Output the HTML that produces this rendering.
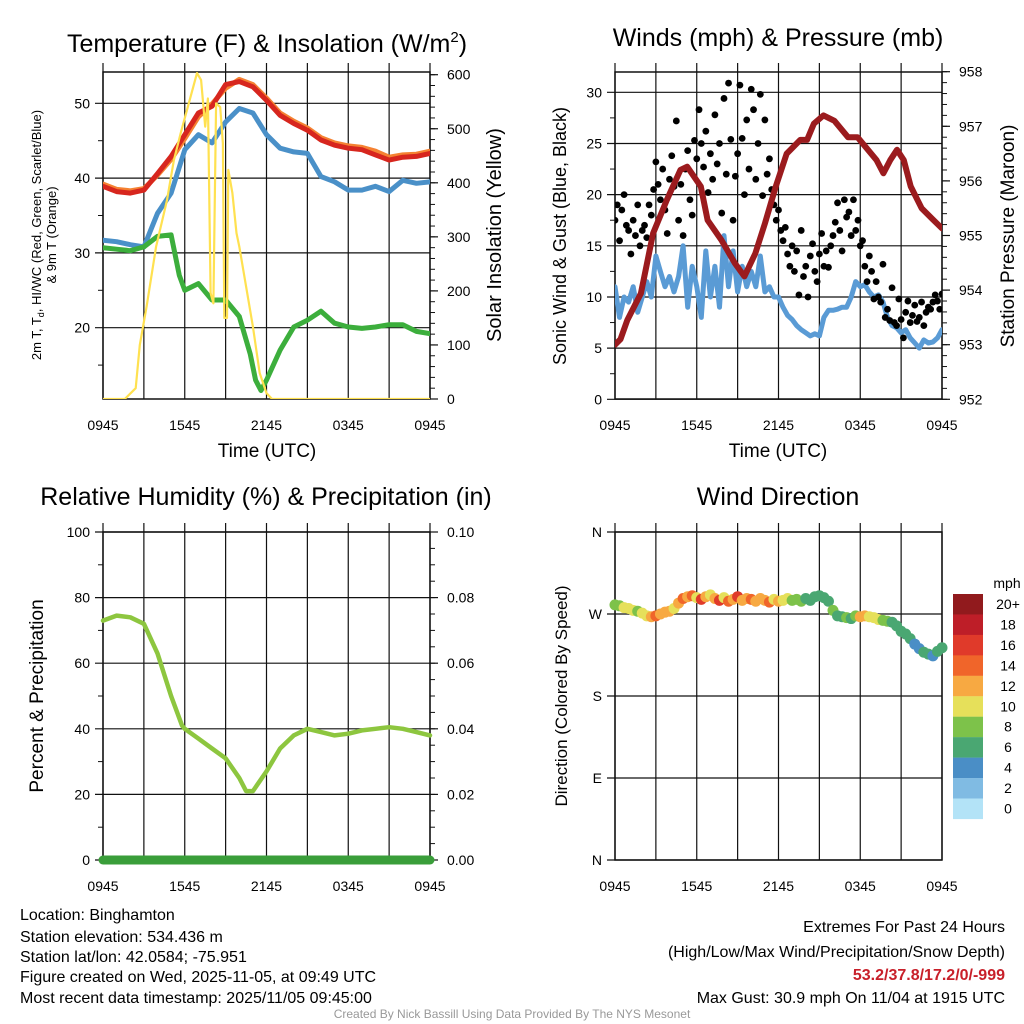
<!DOCTYPE html>
<html><head><meta charset="utf-8"><style>
html,body{margin:0;padding:0;background:#fff}
svg{display:block;font-family:"Liberation Sans",Arial,sans-serif}
</style></head><body>
<svg id="c" width="1024" height="1024" viewBox="0 0 1024 1024" xmlns="http://www.w3.org/2000/svg">
<rect width="1024" height="1024" fill="#fff"/>
<g id="g1"></g>
<g id="g2"></g>
<g id="g3"></g>
<g id="g4"></g>

<text x="267" y="52" font-size="25" text-anchor="middle">Temperature (F) &amp; Insolation (W/m<tspan font-size="15" dy="-10">2</tspan><tspan dy="10">)</tspan></text>
<text x="778" y="46" font-size="25" text-anchor="middle">Winds (mph) &amp; Pressure (mb)</text>
<text x="266" y="505" font-size="25" text-anchor="middle">Relative Humidity (%) &amp; Precipitation (in)</text>
<text x="778" y="505" font-size="25" text-anchor="middle">Wind Direction</text>

<text transform="translate(41,235) rotate(-90)" font-size="13" text-anchor="middle">2m T, T<tspan font-size="9" dy="3">d</tspan><tspan dy="-3">, HI/WC (Red, Green, Scarlet/Blue)</tspan></text>
<text transform="translate(56,235) rotate(-90)" font-size="13" text-anchor="middle">&amp; 9m T (Orange)</text>
<text transform="translate(501,235) rotate(-90)" font-size="20" text-anchor="middle">Solar Insolation (Yellow)</text>
<text x="267" y="457" font-size="19" text-anchor="middle">Time (UTC)</text>
<text x="778" y="457" font-size="19" text-anchor="middle">Time (UTC)</text>
<text transform="translate(566,236) rotate(-90)" font-size="18" text-anchor="middle">Sonic Wind &amp; Gust (Blue, Black)</text>
<text transform="translate(1014,236) rotate(-90)" font-size="19" text-anchor="middle">Station Pressure (Maroon)</text>
<text transform="translate(43,696) rotate(-90)" font-size="19" text-anchor="middle">Percent &amp; Precipitation</text>
<text transform="translate(567,696) rotate(-90)" font-size="17" text-anchor="middle">Direction (Colored By Speed)</text>

<g font-size="16">
<text x="20" y="920">Location: Binghamton</text>
<text x="20" y="942">Station elevation: 534.436 m</text>
<text x="20" y="962">Station lat/lon: 42.0584; -75.951</text>
<text x="20" y="982">Figure created on Wed, 2025-11-05, at 09:49 UTC</text>
<text x="20" y="1003">Most recent data timestamp: 2025/11/05 09:45:00</text>
</g>
<g font-size="16" text-anchor="end">
<text x="1005" y="932">Extremes For Past 24 Hours</text>
<text x="1005" y="957">(High/Low/Max Wind/Precipitation/Snow Depth)</text>
<text x="1005" y="980" fill="#c8202a" font-weight="bold">53.2/37.8/17.2/0/-999</text>
<text x="1005" y="1003">Max Gust: 30.9 mph On 11/04 at 1915 UTC</text>
</g>
<text x="512" y="1018" font-size="12" fill="#999" text-anchor="middle">Created By Nick Bassill Using Data Provided By The NYS Mesonet</text>
</svg>
<script>
// ---- data ----
const xTickLabels = ["0945","1545","2145","0345","0945"];
const tempTimes = [0,1,2,3,4,5,6,7,8,9,10,11,12,13,14,15,16,17,18,19,20,21,22,23,24];
const tempRed = [38.9,38.2,38.0,38.4,40.6,42.9,45.8,48.7,49.6,52.5,52.9,52.2,50.4,48.4,47.3,46.4,45.1,44.4,44.0,43.8,43.1,42.4,42.8,42.9,43.3];
const tempOrange = [39.2,38.5,38.3,38.6,40.4,42.5,45.3,48.2,49.9,52.0,53.2,52.5,50.7,48.7,47.6,46.7,45.4,44.7,44.3,44.1,43.6,42.8,43.1,43.2,43.6];
const tempBlue = [31.7,31.5,31.1,30.8,35.3,38.0,43.8,45.8,44.7,47.5,49.3,48.7,45.8,44.0,43.5,43.3,40.2,39.5,38.4,38.4,38.9,38.2,39.7,39.3,39.5];
const dewTimes = [0,1,2,3,4,5,5.6,6,7,8,9,10,10.8,11.2,11.6,12,13,14,15,16,17,18,19,20,21,22,23,24];
const dewGreen = [30.7,30.5,30.3,30.8,32.2,32.4,27.0,25.0,25.9,23.7,23.7,21.5,16.5,13.0,11.6,13.0,17.0,20.1,21.0,22.2,20.6,20.1,19.9,20.1,20.4,20.4,19.5,19.2];
const solarTimes = [0,1.6,2.4,2.7,3.2,3.9,4.7,5.2,5.7,6.3,6.9,7.2,7.5,7.7,7.9,8.1,8.3,8.6,8.8,8.9,9.1,9.2,9.5,9.8,10.0,10.5,11.0,11.5,12.0,12.4,24];
const solarVals = [0,0,20,100,171,282,368,442,492,547,603,590,504,556,196,177,547,540,473,150,150,424,381,307,282,208,134,48,11,0,0];
const windTimes = []; for(let i=0;i<=72;i++) windTimes.push(i/3);
const windSpeed = [11,8,10, 9.5,11,8.5, 10,11.5,10, 14,12.5,11, 12,10.5,12, 15,9,13, 11,8,14.5, 10,13,9, 16,11,14.5, 10.5,13,11, 12.5,11,14, 10.5,11,10, 10,9,8.2, 7.8,7.2,6.8, 6.5,6.2,6.4, 6.2,8,8.7, 8.7,8.8,9, 9,10,11.5, 11,11.2,10.5, 10,10.2,9.5, 8,7.2,7, 6.5,6.8,6, 5.5,5,5.8, 5.5,5.6,6, 6.8];
const gustTimes = []; for(let i=0;i<=144;i++) gustTimes.push(i/6);
const gustVals = [17.5,19,15.5,18.5,20,17, 16.5,14.2,17.5,16,19,15, 16.5,17,15.8,19,18,20.5, 23.2,21,19.5,22.5,18.5,16.2, 21.5,23.8,20.8,27.2,17.5,21, 16,22.5,24.3,19.5,18,25.3, 23.5,28.3,25,22.7,26.2,20.2, 24,21.5,27.8,23,25,18.2, 29.4,22,30.9,25.4,17.5,21.8, 24,30.7,25.5,20,27.3,22.5, 30.3,28.3,21.5,25,29.8,19.9, 27.3,22,23.5,20.5,19,17.5, 18.5,16.5,15.5,16.8,14.2,13, 15,12.5,14.5,10.2,16.5,12, 13,10,14,15.2,12.5,11.5, 14.2,16.2,13,14.5,12.9,15, 16,17.3,19.2,16.5,14.5,19.5, 17.8,18.3,16,19.5,16.5,17.5, 15,15.5,13,11.5,14,12.5, 9.8,11.5,10,9.5,13.2,8, 8.8,7.7,10.9,7.5,7.2,9.8, 7.8,6,8.5,9.6,7.5,8.2, 9.2,7.6,8,9.5,7.2,8.5, 9,8.8,9.5,10.2,9.6,8.8, 10.3];
const presTimes = [0,0.4,0.9,1.9,2.8,3.8,4.8,5.3,6.3,6.8,7.8,8.8,9.5,10.3,11.0,11.8,12.6,13.6,14.1,14.6,15.3,16.1,17.1,17.8,19.2,19.7,20.2,20.7,21.2,21.7,22.5,23.3,24];
const presVals = [953.0,953.1,953.45,953.94,955.04,955.65,956.2,956.26,955.9,955.28,954.92,954.49,954.25,954.67,955.22,955.9,956.5,956.75,956.75,957.05,957.2,957.1,956.8,956.8,956.38,956.14,956.38,956.57,956.38,955.9,955.5,955.3,955.13];
const rhTimes = [0,1,2,3,4,5,5.8,6,7,8,9,10,10.5,11,12,13,14,15,16,17,18,19,20,21,22,23,24];
const rhVals = [73,74.5,74,72,63,50,41,40,37,34,31,25,21,21,27,34,38,40,39,38,38.5,39.5,40,40.5,40,39,38];
const precipTimes = [0,24];
const precipVals = [0,0];
const dirTimes = windTimes;
const dirVals = [280,279,277, 276,274,273, 271,268,267, 268,270,272, 273,276,282, 287,289,290, 288,286,289, 291,287,285, 288,284,286, 289,285,287, 286,284,287, 285,283,286, 284,285,287, 285,286,284, 287,285,289, 290,288,284, 274,268,267, 266,265,268, 267,268,267, 266,264,263, 262,261,257, 251,248,243, 237,232,228, 226,224,229, 233];
const dirSpeed = [9,8,10, 10,10,9, 10,11,13, 14,12,13, 12,11,12, 14,12,15, 10,16,13, 11,12,17, 10,14,12, 17,13,12, 14,12,13, 12,14,10, 12,11,10, 9,8,8, 7,7,6, 6,6,6, 8,7,7, 8,7,8, 12,12,11, 10,10,9, 8,7,7, 6,6,6, 4,4,6, 6,5,6, 6];
const cbarLabels = ["20+","18","16","14","12","10","8","6","4","2","0"];
const cbarColors = ["#911a1d","#be1e28","#e03a2a","#f0652a","#f7a942","#e6e05a","#7dc24a","#4aa772","#4a8ec6","#80bbe3","#b3e3f7"];

// ---- helpers ----
const NS="http://www.w3.org/2000/svg";
function mk(parent,tag,attrs){const e=document.createElementNS(NS,tag);for(const k in attrs)e.setAttribute(k,attrs[k]);parent.appendChild(e);return e;}
function lin(d0,d1,r0,r1){return v=>r0+(v-d0)*(r1-r0)/(d1-d0);}
function axes(g,x0,x1,y0,y1,lticks,lminor,llab,rticks,rminor,rlab,xs,ys,ysR){
  for(let i=0;i<=8;i++){const x=x0+(x1-x0)*i/8;
    const l=mk(g,'line',{x1:x,x2:x,y1:y0-9,y2:y1,stroke:'#111','stroke-width':1.2});
    
    }
  xTickLabels.forEach((s,i)=>{const t=mk(g,'text',{x:x0+(x1-x0)*i/4,y:y1+31,'font-size':14,'text-anchor':'middle'});t.textContent=s;
    
    });
  lticks.forEach((v,i)=>{const y=ys(v);
    const l=mk(g,'line',{x1:x0-8,x2:x1,y1:y,y2:y,stroke:'#111','stroke-width':1.2});
    
    
    const t=mk(g,'text',{x:x0-13,y:y+5,'font-size':14,'text-anchor':'end'});t.textContent=llab[i];
    
    });
  lminor.forEach(v=>{const y=ys(v);mk(g,'line',{x1:x0-5,x2:x0,y1:y,y2:y,stroke:'#111','stroke-width':1});});
  if(rticks){rticks.forEach((v,i)=>{const y=ysR(v);
    mk(g,'line',{x1:x1,x2:x1+8,y1:y,y2:y,stroke:'#111','stroke-width':1.2});
    const t=mk(g,'text',{x:x1+17,y:y+5,'font-size':14});t.textContent=rlab[i];
    
    });
    rminor.forEach(v=>{const y=ysR(v);mk(g,'line',{x1:x1,x2:x1+5,y1:y,y2:y,stroke:'#111','stroke-width':1});});}
  mk(g,'rect',{x:x0,y:y0,width:x1-x0,height:y1-y0,fill:'none',stroke:'#111','stroke-width':1.5});
}
function path(g,xs,ys,T,V,color,w,name){
  const d=T.map((t,i)=>(i?'L':'M')+xs(t).toFixed(1)+','+ys(V[i]).toFixed(1)).join('');
  const p=mk(g,'path',{d:d,fill:'none',stroke:color,'stroke-width':w,'stroke-linejoin':'round','stroke-linecap':'round'});
  
  
  return p;
}
function range(a,b,s){const r=[];for(let v=a;v<=b+1e-9;v+=s)r.push(+v.toFixed(4));return r;}

// ---- panel 1 ----
(function(){
  const g=document.getElementById('g1');
  const x0=103,x1=430,y0=72,y1=399;
  const xs=lin(0,24,x0,x1), ys=lin(20,50,327.7,103.3), ysR=lin(0,600,399,74.7);
  const clip=mk(g,'clipPath',{id:'cp1'});mk(clip,'rect',{x:x0,y:y0,width:x1-x0,height:y1-y0});
  axes(g,x0,x1,y0,y1,[20,30,40,50],[15,25,35,45],["20","30","40","50"],range(0,600,100),range(0,600,20),["0","100","200","300","400","500","600"],xs,ys,ysR);
  const pg=mk(g,'g',{'clip-path':'url(#cp1)'});
  path(pg,xs,ys,tempTimes,tempOrange,'#f58232',5,'orange-9m-temp-line');
  path(pg,xs,ys,tempTimes,tempRed,'#d7261e',5,'red-2m-temp-line');
  path(pg,xs,ys,tempTimes,tempBlue,'#4a90c8',5,'blue-windchill-line');
  path(pg,xs,ys,dewTimes,dewGreen,'#3cae3c',5,'green-dewpoint-line');
  path(pg,xs,ysR,solarTimes,solarVals,'#ffe150',2.2,'yellow-insolation-line');
})();

// ---- panel 2 ----
(function(){
  const g=document.getElementById('g2');
  const x0=615,x1=942,y0=72,y1=399;
  const xs=lin(0,24,x0,x1), ys=lin(0,30,399.3,92.3), ysR=lin(952,958,399.3,71.7);
  const clip=mk(g,'clipPath',{id:'cp2'});mk(clip,'rect',{x:x0,y:y0,width:x1-x0,height:y1-y0});
  axes(g,x0,x1,y0,y1,[0,5,10,15,20,25,30],[2.5,7.5,12.5,17.5,22.5,27.5],["0","5","10","15","20","25","30"],range(952,958,1),range(952,958,0.2),["952","953","954","955","956","957","958"],xs,ys,ysR);
  const pg=mk(g,'g',{'clip-path':'url(#cp2)'});
  path(pg,xs,ys,windTimes,windSpeed,'#5a9bd5',5,'blue-wind-speed-line');
  gustTimes.forEach((t,i)=>{const c=mk(pg,'circle',{cx:xs(t),cy:ys(gustVals[i]),r:3.4,fill:'#000'});
    
    });
  path(pg,xs,ysR,presTimes,presVals,'#9b1b1e',6,'maroon-pressure-line');
})();

// ---- panel 3 ----
(function(){
  const g=document.getElementById('g3');
  const x0=103,x1=430,y0=532,y1=860;
  const xs=lin(0,24,x0,x1), ys=lin(0,100,860,532), ysR=lin(0,0.1,860,532);
  axes(g,x0,x1,y0,y1,[0,20,40,60,80,100],[10,30,50,70,90],["0","20","40","60","80","100"],range(0,0.1,0.02),range(0,0.1,0.005),["0.00","0.02","0.04","0.06","0.08","0.10"],xs,ys,ysR);
  path(g,xs,ys,rhTimes,rhVals,'#8dc63f',4.5,'humidity-line');
  path(g,xs,ysR,precipTimes,precipVals,'#3a9e3a',9,'precipitation-line');
})();

// ---- panel 4 ----
(function(){
  const g=document.getElementById('g4');
  const x0=615,x1=942,y0=532,y1=860;
  const xs=lin(0,24,x0,x1), ys=lin(0,360,860,532);
  axes(g,x0,x1,y0,y1,[0,90,180,270,360],[],["N","E","S","W","N"],null,null,null,xs,ys,null);
  function col(s){const idx=Math.min(10,Math.floor(s/2));return cbarColors[10-idx];}
  dirTimes.forEach((t,i)=>{const c=mk(g,'circle',{cx:xs(t),cy:ys(dirVals[i]),r:5.5,fill:col(dirSpeed[i])});
    
    });
  const cb=mk(g,'g',{});
  
  
  const t0=mk(cb,'text',{x:1007,y:588,'font-size':14,'text-anchor':'middle'});t0.textContent='mph';
  cbarLabels.forEach((s,i)=>{const y=594+i*20.45;
    mk(cb,'rect',{x:953,y:y,width:30,height:20.6,fill:cbarColors[i]});
    const t=mk(cb,'text',{x:1008,y:y+15,'font-size':14,'text-anchor':'middle'});t.textContent=s;
    
    });
})();
</script>
</body></html>
